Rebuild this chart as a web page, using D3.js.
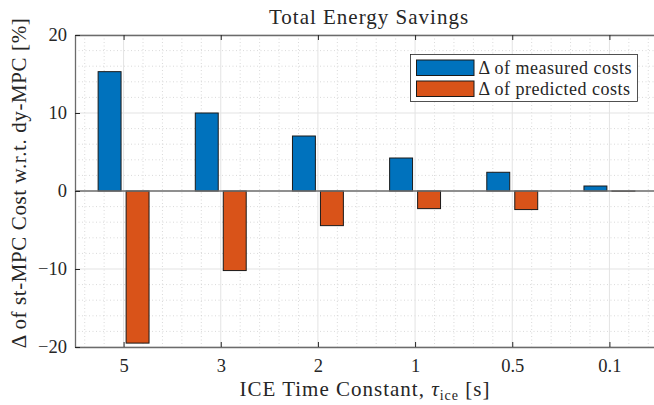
<!DOCTYPE html>
<html>
<head>
<meta charset="utf-8">
<script src="https://cdn.jsdelivr.net/npm/d3@7"></script>
<style>
  body { margin: 0; background: #fff; }
  svg text { font-family: "Liberation Serif", serif; fill: #262626; }
</style>
</head>
<body>
<div id="chart-wrap"></div>
<script>
// values
var categories = ["5", "3", "2", "1", "0.5", "0.1"];
var measured = [15.3, 10.0, 7.05, 4.23, 2.4, 0.64];
var predicted = [-19.5, -10.2, -4.44, -2.26, -2.38, -0.03];
var seriesNames = ["\u0394 of measured costs", "\u0394 of predicted costs"];
var yTicks = [-20, -10, 0, 10, 20];
var colors = ["#0072BD", "#D95319"];

var W = 654, H = 405;
var margin = { top: 35, right: -4, bottom: 58, left: 75 };
var width = W - margin.left - margin.right,
  height = H - margin.top - margin.bottom;

var x = d3.scaleLinear().domain([0.5, categories.length + 0.5]).range([0, width]);
var y = d3.scaleLinear().domain([-20, 20]).range([height, 0]);

var barW = 0.236, off = 0.144;

var svg = d3.select("#chart-wrap").append("svg")
  .attr("width", W).attr("height", H);

var g = svg.append("g")
  .attr("transform", "translate(" + margin.left + "," + margin.top + ")");

// minor grid
var xMinor = d3.range(0.6, categories.length + 0.45, 0.2)
  .filter(function(d) { return Math.abs(d - Math.round(d)) > 0.01; });
var yMinor = d3.range(-18, 20, 2).filter(function(d) { return d % 10 !== 0; });

g.append("g").selectAll("line").data(xMinor).enter().append("line")
  .attr("x1", function(d) { return x(d); }).attr("x2", function(d) { return x(d); })
  .attr("y1", 0).attr("y2", height)
  .attr("stroke", "#cfcfcf").attr("stroke-width", 0.8).attr("stroke-dasharray", "1,2.5");
g.append("g").selectAll("line").data(yMinor).enter().append("line")
  .attr("y1", function(d) { return y(d); }).attr("y2", function(d) { return y(d); })
  .attr("x1", 0).attr("x2", width)
  .attr("stroke", "#cfcfcf").attr("stroke-width", 0.8).attr("stroke-dasharray", "1,2.5");

// major grid
g.append("g").selectAll("line").data(d3.range(1, categories.length + 1)).enter().append("line")
  .attr("x1", function(d) { return x(d); }).attr("x2", function(d) { return x(d); })
  .attr("y1", 0).attr("y2", height)
  .attr("stroke", "#e3e3e3").attr("stroke-width", 1);
g.append("g").selectAll("line").data(yTicks).enter().append("line")
  .attr("y1", function(d) { return y(d); }).attr("y2", function(d) { return y(d); })
  .attr("x1", 0).attr("x2", width)
  .attr("stroke", "#e3e3e3").attr("stroke-width", 1.2);

// bars
[measured, predicted].forEach(function(vals, s) {
  g.append("g").selectAll("rect").data(vals).enter().append("rect")
    .attr("x", function(d, i) { return x(i + 1 + (s === 0 ? -off : off) - barW / 2); })
    .attr("width", x(barW) - x(0))
    .attr("y", function(d) { return y(Math.max(d, 0)); })
    .attr("height", function(d) { return Math.abs(y(d) - y(0)); })
    .attr("fill", colors[s])
    .attr("stroke", "#1a1a1a").attr("stroke-width", 1);
});

// baseline
g.append("line")
  .attr("x1", 0).attr("x2", width).attr("y1", y(0)).attr("y2", y(0))
  .attr("stroke", "#6e6e6e").attr("stroke-width", 1.3);

// axes
var xAxis = d3.axisBottom(x).tickValues(d3.range(1, categories.length + 1))
  .tickFormat(function(d) { return categories[d - 1]; })
  .tickSizeInner(-5).tickSizeOuter(0).tickPadding(12);
var xTop = d3.axisTop(x).tickValues(d3.range(1, categories.length + 1))
  .tickFormat("").tickSizeInner(-5).tickSizeOuter(0);
var yAxis = d3.axisLeft(y).tickValues(yTicks)
  .tickSizeInner(-5).tickSizeOuter(0).tickPadding(8);

function styleAxis(sel) {
  sel.attr("font-family", null);
  sel.select(".domain").attr("stroke", "#6b6b6b").attr("stroke-width", 1.3);
  sel.selectAll(".tick line").attr("stroke", "#262626").attr("stroke-width", 1);
  sel.selectAll(".tick text")
    .style("font-family", "'Liberation Serif', serif")
    .style("font-size", "18.5px").style("fill", "#262626");
}

g.append("g").attr("transform", "translate(0," + height + ")").call(xAxis).call(styleAxis);
g.append("g").call(xTop).call(styleAxis);
g.append("g").call(yAxis).call(styleAxis);

// title
svg.append("text")
  .attr("x", 369).attr("y", 24)
  .attr("text-anchor", "middle").attr("font-size", 21)
  .attr("letter-spacing", 1.0)
  .text("Total Energy Savings");

// x label
var xl = svg.append("text")
  .attr("x", 365).attr("y", 396)
  .attr("text-anchor", "middle").attr("font-size", 21)
  .attr("letter-spacing", 1.0);
xl.append("tspan").text("ICE Time Constant, ");
xl.append("tspan").attr("font-style", "italic").text("\u03C4");
xl.append("tspan").attr("font-size", 14).attr("dy", 4).text("ice");
xl.append("tspan").attr("dy", -4).text(" [s]");

// y label
svg.append("text")
  .attr("transform", "translate(26," + 183 + ") rotate(-90)")
  .attr("text-anchor", "middle").attr("font-size", 21)
  .attr("letter-spacing", 0.6)
  .text("\u0394 of st-MPC Cost w.r.t. dy-MPC [%]");

// legend
var lg = svg.append("g").attr("transform", "translate(410.5,54.5)");
lg.append("rect").attr("width", 227).attr("height", 47)
  .attr("fill", "#fff").attr("stroke", "#262626").attr("stroke-width", 0.8);
seriesNames.forEach(function(name, i) {
  lg.append("rect")
    .attr("x", 6).attr("y", 5.5 + i * 21).attr("width", 57.5).attr("height", 15.5)
    .attr("fill", colors[i]).attr("stroke", "#1a1a1a").attr("stroke-width", 1);
  lg.append("text")
    .attr("x", 68).attr("y", 19 + i * 21)
    .attr("font-size", 18).attr("letter-spacing", 0.5)
    .text(name);
});
</script>
</body>
</html>
